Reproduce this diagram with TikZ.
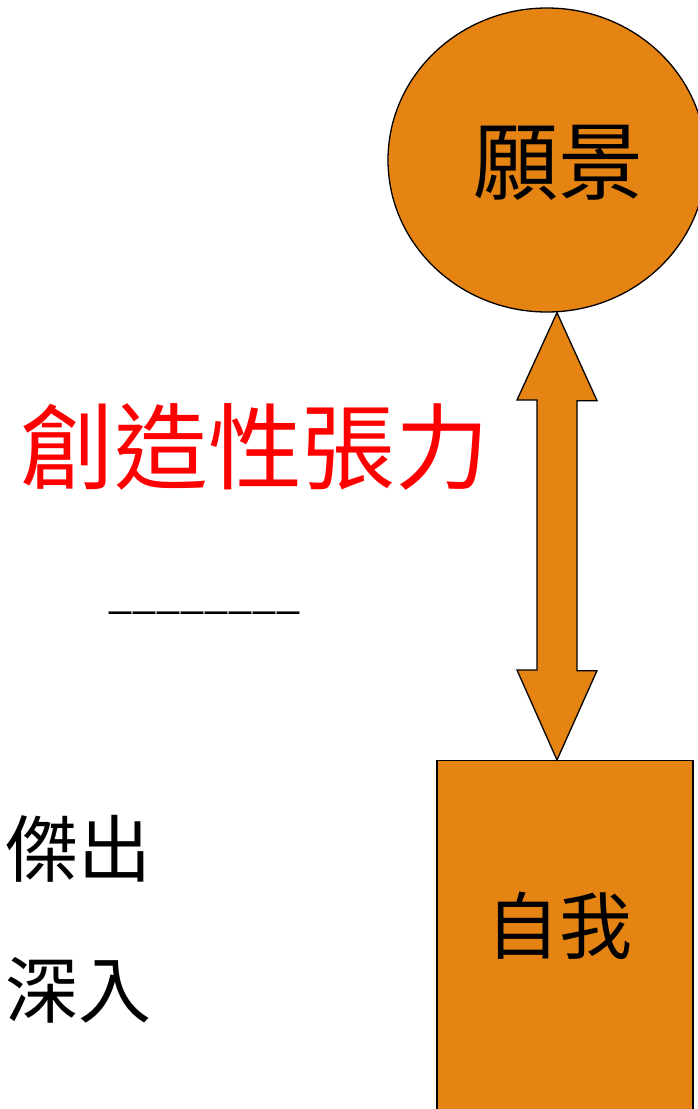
\documentclass[tikz,border=0pt]{standalone}
\usepackage{fontspec}
\setmainfont{Noto Sans CJK TC}
\usetikzlibrary{shapes.geometric}
\definecolor{visionorange}{RGB}{229,131,19}
\begin{document}
\begin{tikzpicture}[x=1pt,y=-1pt,
		shapefill/.style={fill=visionorange,draw=black,line width=1.3pt},
		bigtext/.style={font=\fontsize{#1}{#1}\selectfont,inner sep=0pt}]
		\useasboundingbox (0,0) rectangle (697,1109);
		\node[shapefill,ellipse,minimum width=318pt,minimum height=304pt,inner sep=0pt] (vision) at (547,160) {};
		\node[shapefill,rectangle,minimum width=256pt,minimum height=370pt,anchor=north] (self) at (565,760) {};
		\coordinate (tiptop) at (vision.south -| 557,0);
		\coordinate (tipbot) at (self.north -| 557,0);
		\draw[shapefill] (tiptop) -- ++(40,88) -- ++(-20,0) -- ++(0,270) -- ++(20,0) -- (tipbot)
			-- ++(-40,-90) -- ++(20,0) -- ++(0,-270) -- ++(-20,0) -- cycle;
		%
		\node[bigtext=85pt] (visionlabel) at (558,163) {願景};
		\node[bigtext=73pt] (selflabel) at (559,926) {自我};
		\node[bigtext=94pt,text=red] (tension) at (255,447) {創造性張力};
		\node[bigtext=43pt,anchor=base west] (dashline) at (108,608) {\_\_\_\_\_\_\_\_};
		\node[bigtext=73pt,anchor=west] (excel) at (5,849) {傑出};
		\node[bigtext=73pt,anchor=west] (deep) at (5,990) {深入};
	\end{tikzpicture}
\end{document}
